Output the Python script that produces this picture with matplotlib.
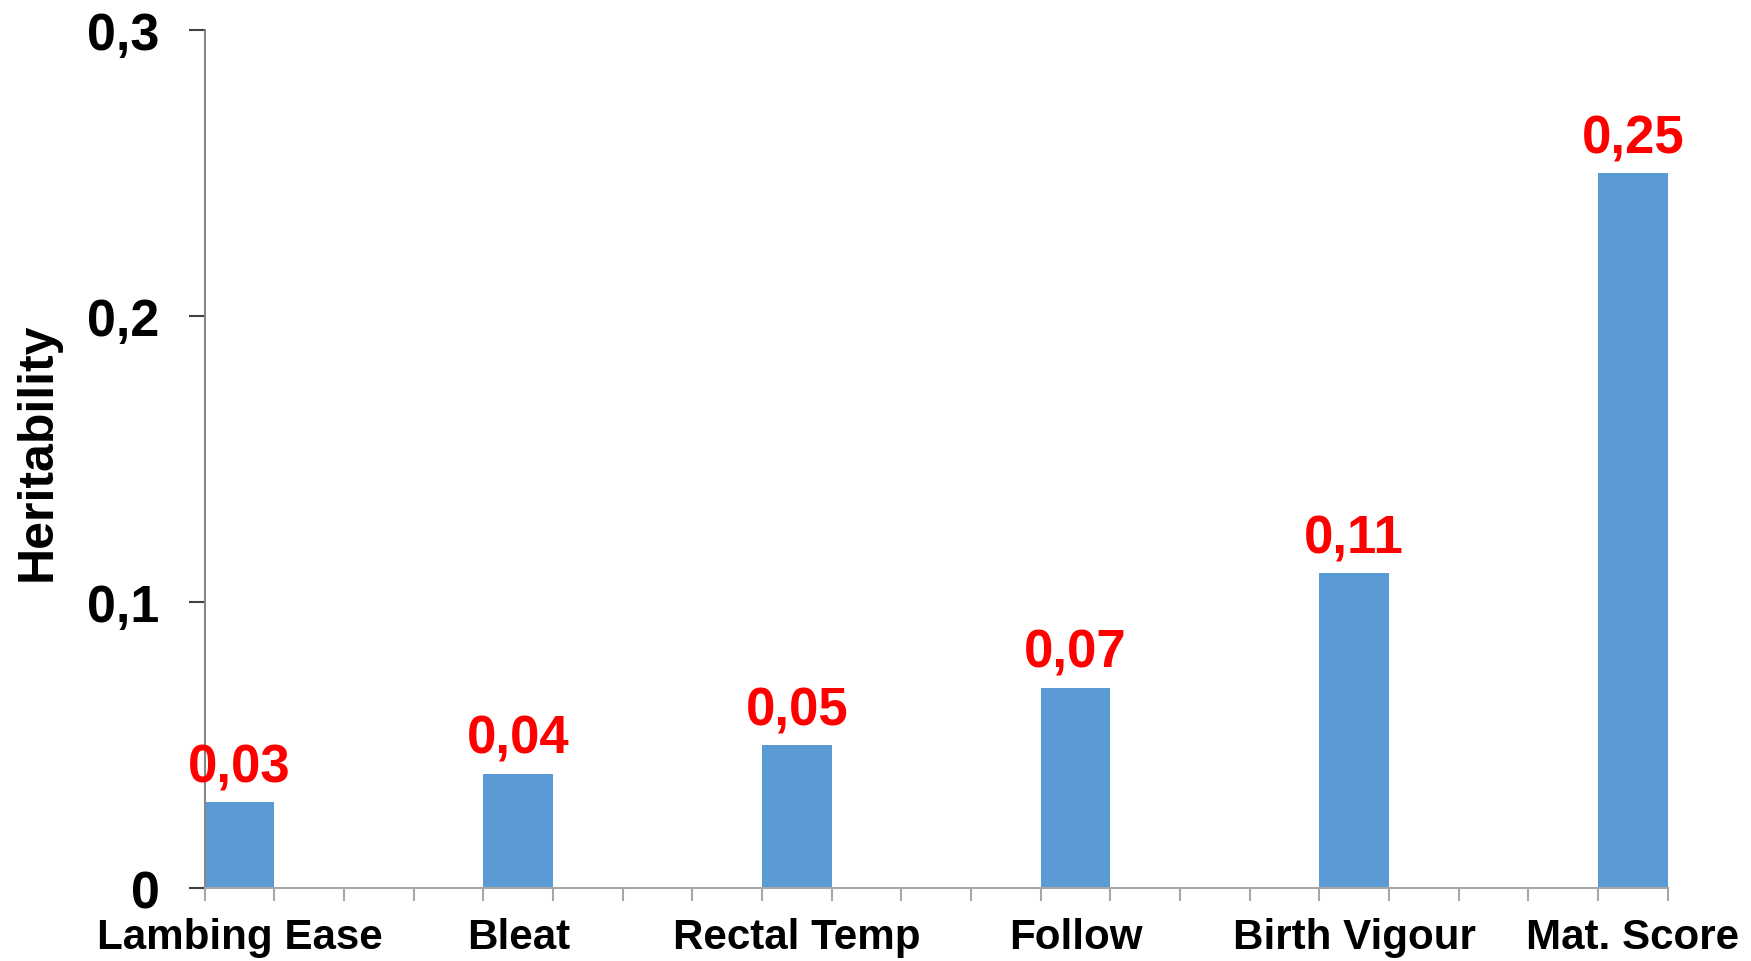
import matplotlib
matplotlib.use("Agg")
import matplotlib.pyplot as plt
from matplotlib.ticker import FixedLocator, NullFormatter

# Heritability estimates per trait
traits = ["Lambing Ease", "Bleat", "Rectal Temp", "Follow", "Birth Vigour", "Mat. Score"]
heritability = [0.03, 0.04, 0.05, 0.07, 0.11, 0.25]
value_labels = ["0,03", "0,04", "0,05", "0,07", "0,11", "0,25"]
ytick_values = [0, 0.1, 0.2, 0.3]
ytick_labels = ["0", "0,1", "0,2", "0,3"]

plt.rcParams["font.family"] = ["Liberation Sans", "DejaVu Sans"]
plt.rcParams["font.weight"] = "bold"

fig = plt.figure(figsize=(17.51, 9.62), dpi=100)
ax_w = 0.83552
ax = fig.add_axes([0.11690, 0.07588, ax_w, 0.89189])

step = 4          # slots per category
bar_w = 1         # bar occupies one slot
lefts = [i * step for i in range(len(traits))]
ax.bar(lefts, heritability, width=bar_w, align="edge", color="#5B9BD5", zorder=2)

for x, v, lab in zip(lefts, heritability, value_labels):
    ax.annotate(lab, xy=(x + bar_w / 2, v), xytext=(0, 15), textcoords="offset points",
                ha="center", va="baseline", color="#FF0000", fontsize=38,
                fontweight="bold")

n_slots = (len(traits) - 1) * step + bar_w
ax.set_xlim(0, n_slots)
ax.set_ylim(0, 0.3)

# Slot boundaries as tick marks, category names centred under bars
ax.xaxis.set_major_locator(FixedLocator(list(range(n_slots + 1))))
ax.xaxis.set_major_formatter(NullFormatter())
ax.xaxis.set_minor_locator(FixedLocator([x + bar_w / 2 for x in lefts]))
ax.set_xticklabels(traits, minor=True, fontsize=30.3, fontweight="bold")
ax.tick_params(axis="x", which="major", direction="out", length=9, width=1.5,
               color="#A6A6A6")
ax.tick_params(axis="x", which="minor", length=0, pad=21)

ax.set_yticks(ytick_values)
ax.set_yticklabels(ytick_labels, fontsize=37.5, fontweight="bold")
ax.tick_params(axis="y", direction="out", length=11.3, width=1.5, color="#404040", pad=21)

ax.set_ylabel("Heritability", fontsize=36, fontweight="bold")
ax.yaxis.set_label_coords((61 - 204.7) / (ax_w * 1751), 0.51)

for side in ("top", "right"):
    ax.spines[side].set_visible(False)
ax.spines["left"].set_color("#868686")
ax.spines["left"].set_linewidth(1.5)
ax.spines["bottom"].set_color("#A6A6A6")
ax.spines["bottom"].set_linewidth(1.5)

fig.savefig("out.png", dpi=100, facecolor="white")
